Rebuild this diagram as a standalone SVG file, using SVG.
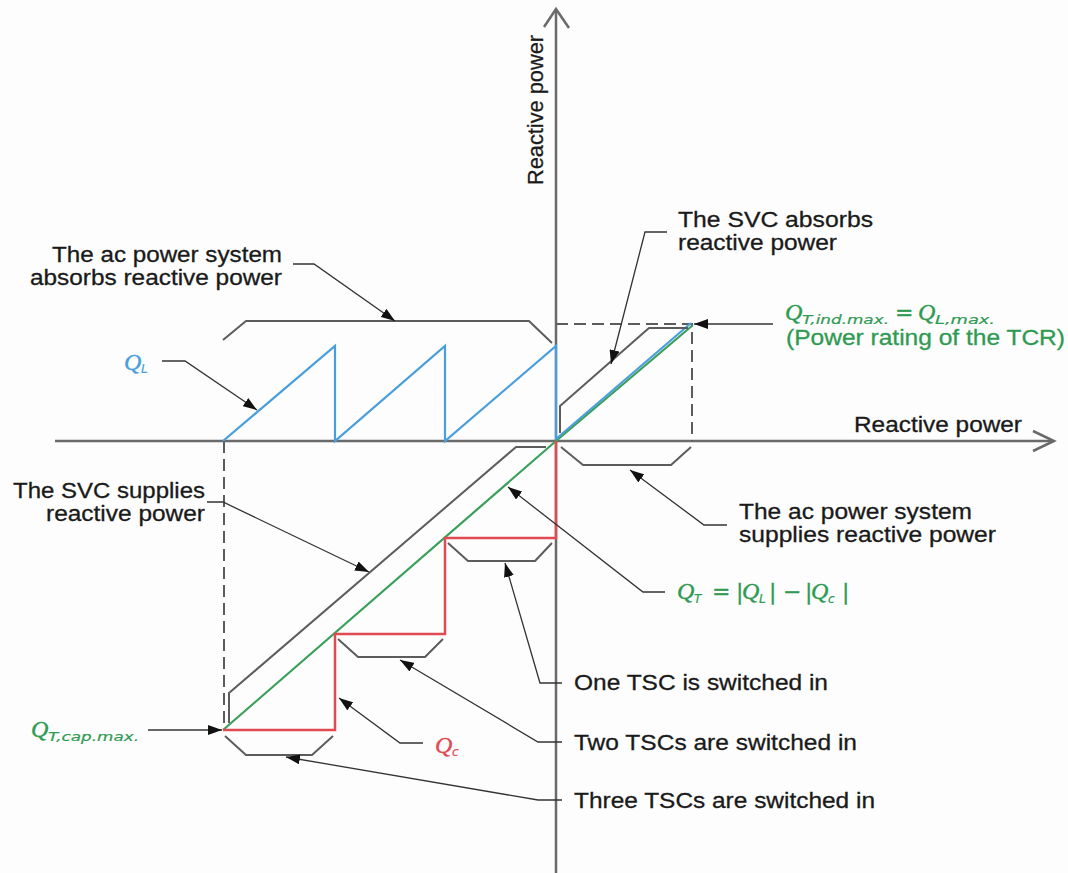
<svg xmlns="http://www.w3.org/2000/svg" width="1068" height="873" viewBox="0 0 1068 873">
<style>
.bg{fill:#fdfdfd}
.axis{fill:none;stroke:#6a6a6a;stroke-width:2.5}
.br{fill:none;stroke:#5c5c5c;stroke-width:2;stroke-linejoin:round}
.dash{fill:none;stroke:#5c5c5c;stroke-width:2;stroke-dasharray:12 6}
.lda{fill:none;stroke:#333;stroke-width:1.3;marker-end:url(#ah)}
.blue{fill:none;stroke:#4a9edb;stroke-width:2.2}
.green{fill:none;stroke:#3a9f5a;stroke-width:2.2}
.red{fill:none;stroke:#e04a52;stroke-width:2.5}
.t{font-family:"Liberation Sans",Arial,sans-serif;font-size:22px;fill:#1a1a1a;stroke:#1a1a1a;stroke-width:0.3}
.tg{font-family:"Liberation Sans",Arial,sans-serif;font-size:22px;fill:#2f9a52;stroke:#2f9a52;stroke-width:0.3}
.gf{fill:#2f9a52;stroke:#2f9a52}
.bf{fill:#4a9edb;stroke:#4a9edb}
.rf{fill:#e04a52;stroke:#e04a52}
.mq{font-family:"Liberation Serif","DejaVu Serif",serif;font-style:italic;font-size:24px;stroke-width:0.4}
.ms{font-family:"DejaVu Sans","Liberation Sans",sans-serif;font-style:oblique;font-size:12px;stroke-width:0.2}
.mo{font-family:"DejaVu Sans","Liberation Sans",sans-serif;font-size:22px;stroke-width:0.3}
</style>
<defs>
<marker id="ah" viewBox="0 0 14 10" refX="14" refY="5" markerWidth="14" markerHeight="10" markerUnits="userSpaceOnUse" orient="auto">
<path d="M0,0 L14,5 L0,10 z" fill="#111"/>
</marker>
</defs>
<rect class="bg" x="0" y="0" width="1068" height="873"/>

<g id="axes">
<line class="axis" x1="556" y1="873" x2="556" y2="10"/>
<polyline class="axis" points="544,27 556,9 569,28"/>
<line class="axis" x1="55" y1="441" x2="1052" y2="441"/>
<polyline class="axis" points="1033,431 1054,441 1033,451"/>
<text class="t" transform="translate(543,185) rotate(-90)" textLength="150" lengthAdjust="spacingAndGlyphs">Reactive power</text>
<text class="t" x="854" y="432" textLength="168" lengthAdjust="spacingAndGlyphs">Reactive power</text>
</g>

<g id="guides">
<line class="dash" x1="224" y1="441" x2="224" y2="726"/>
<polyline class="dash" points="556,324 692,324 692,441"/>
</g>

<g id="curve-QL">
<polyline class="blue" points="223,441 335,346 335,441 445,346 445,441 556,346 556,441"/>
</g>

<g id="curve-QT">
<polyline class="green" points="223,730 556,441 693,325"/>
<line class="blue" x1="556" y1="439" x2="691" y2="323"/>
</g>

<g id="curve-QC">
<polyline class="red" points="556,441 556,538 445,538 445,634 335,634 335,730 223,730"/>
</g>

<g id="brackets">
<polyline class="br" points="223,340 246,321 529,321 552,343"/>
<polyline class="br" points="560,433 560,406 649,328 688,328"/>
<polyline class="br" points="561,447 583,465 671,465 691,447"/>
<polyline class="br" points="229,723 229,693 516,447 546,447"/>
<polyline class="br" points="448,543 468,561 535,561 552,543"/>
<polyline class="br" points="338,639 358,657 425,657 443,639"/>
<polyline class="br" points="225,736 246,755 312,755 333,736"/>
</g>

<g id="connectors">
<polyline class="lda" points="293,264 314,264 395,321"/>
<polyline class="lda" points="162,361 185,361 257,410"/>
<polyline class="lda" points="667,232 645,232 611,364"/>
<line class="lda" x1="773" y1="324" x2="694" y2="324"/>
<polyline class="lda" points="727,525 704,525 630,470"/>
<polyline class="lda" points="665,592 643,592 508,487"/>
<polyline class="lda" points="207,502 223,502 369,572"/>
<line class="lda" x1="148" y1="730" x2="222" y2="730"/>
<polyline class="lda" points="423,743 400,743 339,698"/>
<polyline class="lda" points="562,683 540,683 505,563"/>
<polyline class="lda" points="562,742 538,742 400,660"/>
<polyline class="lda" points="562,800 538,800 286,757"/>
</g>

<g id="label-ac-absorbs">
<text class="t" x="282" y="262" text-anchor="end" textLength="230" lengthAdjust="spacingAndGlyphs">The ac power system</text>
<text class="t" x="282" y="285" text-anchor="end" textLength="252" lengthAdjust="spacingAndGlyphs">absorbs reactive power</text>
</g>

<g id="label-svc-absorbs">
<text class="t" x="678" y="227" textLength="195" lengthAdjust="spacingAndGlyphs">The SVC absorbs</text>
<text class="t" x="678" y="250" textLength="159" lengthAdjust="spacingAndGlyphs">reactive power</text>
</g>

<g id="label-tcr">
<text class="mq gf" x="785" y="320">Q</text>
<text class="ms gf" x="802" y="324" textLength="87" lengthAdjust="spacingAndGlyphs">T,ind.max.</text>
<text class="mo gf" x="895" y="320">=</text>
<text class="mq gf" x="918" y="320">Q</text>
<text class="ms gf" x="935" y="324" textLength="60" lengthAdjust="spacingAndGlyphs">L,max.</text>
<text class="tg" x="786" y="345" textLength="279" lengthAdjust="spacingAndGlyphs">(Power rating of the TCR)</text>
</g>

<g id="label-QL">
<text class="mq bf" x="124" y="370">Q</text>
<text class="ms bf" x="141" y="373">L</text>
</g>

<g id="label-ac-supplies">
<text class="t" x="739" y="519" textLength="233" lengthAdjust="spacingAndGlyphs">The ac power system</text>
<text class="t" x="739" y="542" textLength="257" lengthAdjust="spacingAndGlyphs">supplies reactive power</text>
</g>

<g id="label-svc-supplies">
<text class="t" x="205" y="498" text-anchor="end" textLength="192" lengthAdjust="spacingAndGlyphs">The SVC supplies</text>
<text class="t" x="205" y="521" text-anchor="end" textLength="159" lengthAdjust="spacingAndGlyphs">reactive power</text>
</g>

<g id="label-QT">
<text class="mq gf" x="677" y="599">Q</text>
<text class="ms gf" x="694" y="603">T</text>
<text class="mo gf" x="712" y="599">=</text>
<text class="mo gf" x="736" y="599">|</text>
<text class="mq gf" x="742" y="599">Q</text>
<text class="ms gf" x="759" y="603">L</text>
<text class="mo gf" x="769" y="599">|</text>
<text class="mo gf" x="783" y="599">−</text>
<text class="mo gf" x="805" y="599">|</text>
<text class="mq gf" x="811" y="599">Q</text>
<text class="ms gf" x="828" y="603">c</text>
<text class="mo gf" x="842" y="599">|</text>
</g>

<g id="label-QTcap">
<text class="mq gf" x="31" y="737">Q</text>
<text class="ms gf" x="48" y="741" textLength="91" lengthAdjust="spacingAndGlyphs">T,cap.max.</text>
</g>

<g id="label-Qc">
<text class="mq rf" x="435" y="753">Q</text>
<text class="ms rf" x="452" y="756">c</text>
</g>

<g id="label-tsc">
<text class="t" x="574" y="690" textLength="254" lengthAdjust="spacingAndGlyphs">One TSC is switched in</text>
<text class="t" x="574" y="750" textLength="283" lengthAdjust="spacingAndGlyphs">Two TSCs are switched in</text>
<text class="t" x="574" y="808" textLength="301" lengthAdjust="spacingAndGlyphs">Three TSCs are switched in</text>
</g>
</svg>
